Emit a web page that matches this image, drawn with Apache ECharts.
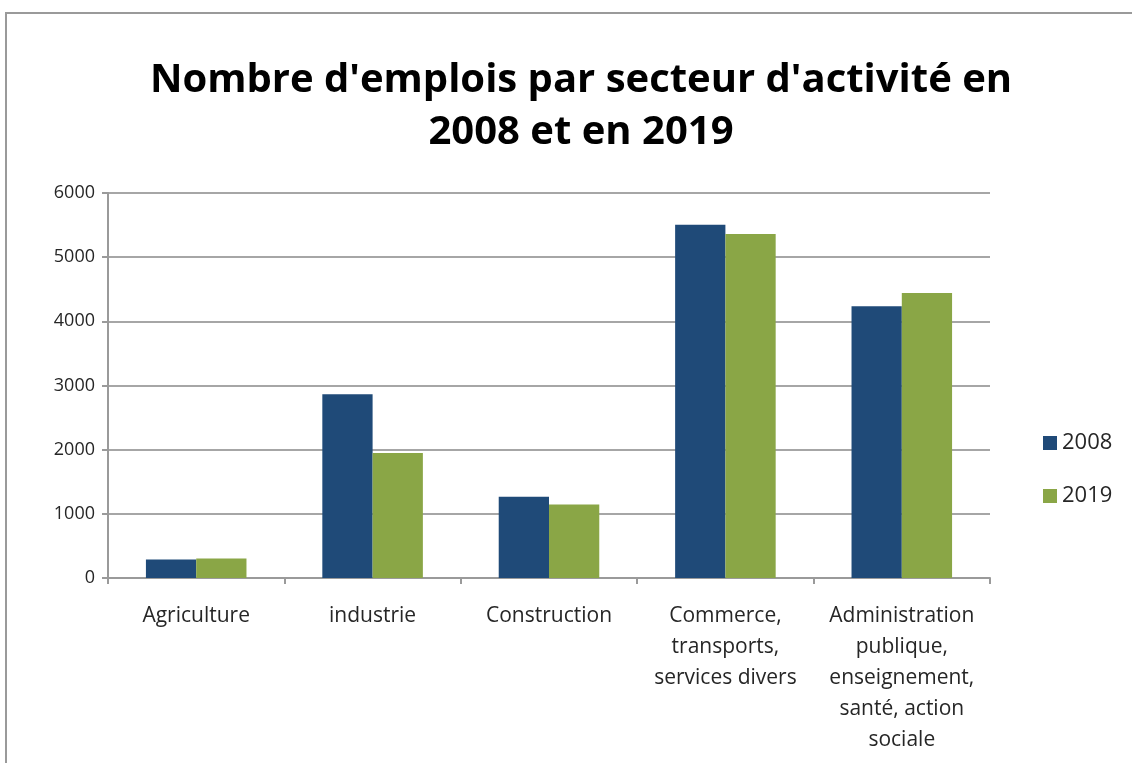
<!DOCTYPE html>
<html lang="fr">
<head>
    <meta charset="UTF-8">
    <title>Nombre d'emplois par secteur</title>
    <script src="https://cdn.jsdelivr.net/npm/echarts@6/dist/echarts.min.js"></script>
    <style>
        html, body { margin: 0; padding: 0; background: #fff; }
        #chart { width: 1132px; height: 763px; }
    </style>
</head>
<body>
<div id="chart"></div>
<script>
    // données
    var secteurs = ['Agriculture', 'industrie', 'Construction',
        'Commerce,\ntransports,\nservices divers',
        'Administration\npublique,\nenseignement,\nsanté, action\nsociale'];
    var emplois2008 = [290, 2865, 1265, 5505, 4235];
    var emplois2019 = [305, 1950, 1145, 5360, 4440];
    var ticksY = [0, 1000, 2000, 3000, 4000, 5000, 6000];

    var chart = echarts.init(document.getElementById('chart'));
    chart.setOption({
        animation: false,
        textStyle: { fontFamily: 'Open Sans' },
        title: {
            text: "Nombre d'emplois par secteur d'activité en\n2008 et en 2019",
            left: 576,
            top: 50,
            textAlign: 'center',
            textStyle: {
                fontFamily: 'Open Sans',
                fontSize: 40,
                fontWeight: 'bold',
                color: '#000',
                lineHeight: 52
            }
        },
        graphic: [{
            type: 'rect',
            shape: { x: 6, y: 13, width: 1200, height: 800 },
            style: { fill: 'none', stroke: '#9a9a9a', lineWidth: 2 },
            silent: true
        }],
        legend: {
            orient: 'vertical',
            left: 1038,
            top: 427,
            itemWidth: 14,
            itemHeight: 14,
            itemGap: 31,
            icon: 'rect',
            textStyle: { fontSize: 22, color: '#262626' },
            data: ['2008', '2019']
        },
        grid: { left: 108, right: 142, top: 193, bottom: 185 },
        xAxis: {
            type: 'category',
            data: secteurs,
            axisLine: { lineStyle: { color: '#9a9a9a', width: 2 } },
            axisTick: { show: true, length: 6, lineStyle: { color: '#9a9a9a', width: 2 } },
            axisLabel: {
                interval: 0,
                margin: 23,
                fontSize: 21,
                lineHeight: 31,
                color: '#262626'
            }
        },
        yAxis: {
            type: 'value',
            min: ticksY[0],
            max: ticksY[ticksY.length - 1],
            interval: 1000,
            axisLine: { show: true, lineStyle: { color: '#9a9a9a', width: 2 } },
            axisTick: { show: true, length: 6, lineStyle: { color: '#9a9a9a', width: 2 } },
            splitLine: { lineStyle: { color: '#a6a6a6', width: 2 } },
            axisLabel: {
                fontSize: 18, color: '#262626', margin: 13,
                formatter: function (v) { return String(v); }
            }
        },
        series: [{
            name: '2008',
            type: 'bar',
            data: emplois2008,
            barGap: 0,
            barCategoryGap: '43%',
            itemStyle: { color: '#1f4a78' }
        }, {
            name: '2019',
            type: 'bar',
            data: emplois2019,
            barGap: 0,
            barCategoryGap: '43%',
            itemStyle: { color: '#8aa646' }
        }]
    });
</script>
</body>
</html>
